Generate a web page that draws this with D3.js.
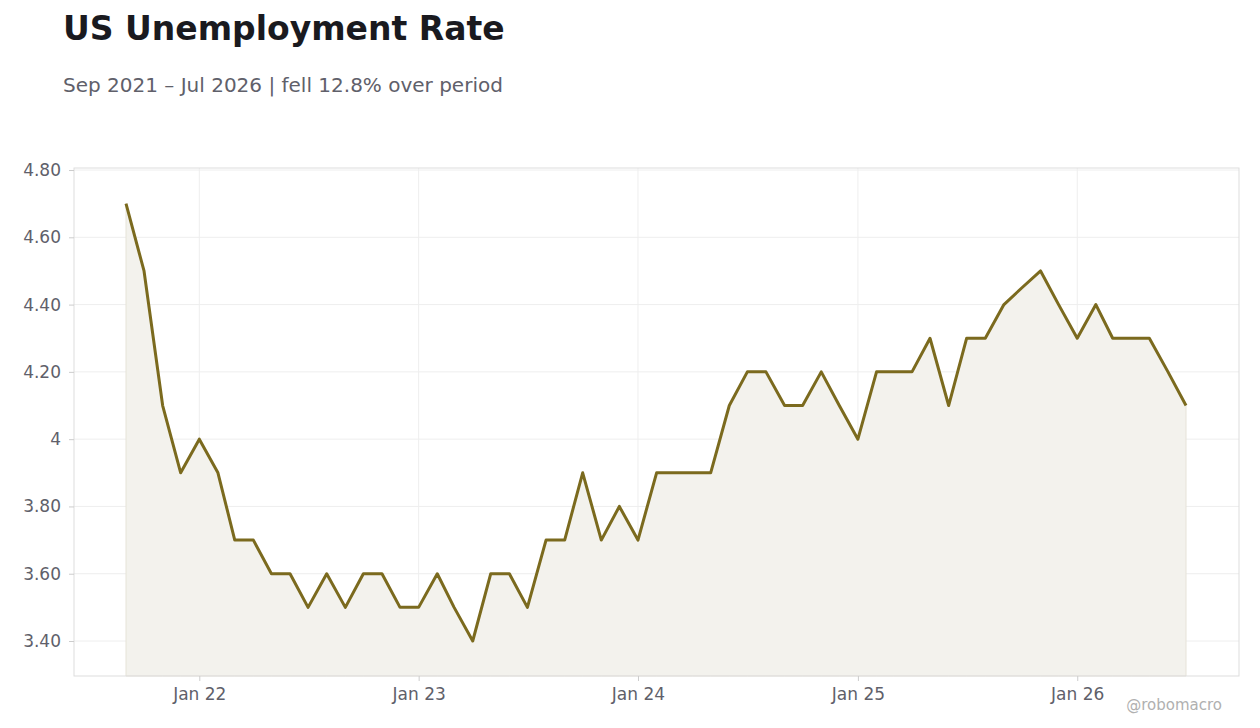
<!DOCTYPE html>
<html><head><meta charset="utf-8">
<script src="https://cdn.jsdelivr.net/npm/d3@7"></script>
<style>body{margin:0;background:#fff;font-family:"DejaVu Sans",sans-serif}</style>
</head><body><svg id="c" width="1260" height="728"></svg>
<script>
const startMonth = "2021-09";
const values = [4.7,4.5,4.1,3.9,4.0,3.9,3.7,3.7,3.6,3.6,3.5,3.6,3.5,3.6,3.6,3.5,
3.5,3.6,3.5,3.4,3.6,3.6,3.5,3.7,3.7,3.9,3.7,3.8,
3.7,3.9,3.9,3.9,3.9,4.1,4.2,4.2,4.1,4.1,4.2,4.1,
4.0,4.2,4.2,4.2,4.3,4.1,4.3,4.3,4.4,4.45,4.5,4.4,
4.3,4.4,4.3,4.3,4.3,4.2,4.1];
const yTicks = [3.4,3.6,3.8,4.0,4.2,4.4,4.6,4.8];
const xTickLabels = ["Jan 22","Jan 23","Jan 24","Jan 25","Jan 26"];

const s = d3.timeParse("%Y-%m")(startMonth);
const data = values.map((v,i)=>({d:d3.timeMonth.offset(s,i),v}));
const svg = d3.select("#c");
const L=74,R=1239,T=168,B=676;
const x = d3.scaleTime().domain([new Date(2021,8,1),new Date(2026,6,1)]).range([126,1186]);
const y = d3.scaleLinear().domain([3.296,4.806]).range([B,T]);
const xt = xTickLabels.map((t,i)=>new Date(2022+i,0,1));

svg.append("text").attr("x",63).attr("y",40).attr("font-size",33).attr("font-weight","bold").attr("fill","#1a1a1f").text("US Unemployment Rate");
svg.append("text").attr("x",63).attr("y",92).attr("font-size",20).attr("fill","#60606a").text("Sep 2021 – Jul 2026 | fell 12.8% over period");

const g = svg.append("g");
g.selectAll(".hg").data(yTicks).join("line").attr("x1",L).attr("x2",R).attr("y1",d=>y(d)).attr("y2",d=>y(d)).attr("stroke","#eeeeee");
g.selectAll(".vg").data(xt).join("line").attr("x1",d=>x(d)).attr("x2",d=>x(d)).attr("y1",T).attr("y2",B).attr("stroke","#eeeeee");
g.append("path").datum(data).attr("fill","#f3f2ed").attr("stroke","#e6e3d8")
 .attr("d",d3.area().x(d=>x(d.d)).y0(B).y1(d=>y(d.v)));
g.append("path").datum(data).attr("fill","none").attr("stroke","#7b6a1e").attr("stroke-width",3).attr("stroke-linejoin","round")
 .attr("d",d3.line().x(d=>x(d.d)).y(d=>y(d.v)));
g.append("rect").attr("x",L).attr("y",T).attr("width",R-L).attr("height",B-T).attr("fill","none").attr("stroke","#dddddd");

const ya = svg.append("g").attr("transform",`translate(${L},0)`)
 .call(d3.axisLeft(y).tickValues(yTicks).tickSize(5).tickFormat(d=>d===4?"4":d.toFixed(2)));
const xa = svg.append("g").attr("transform",`translate(0,${B})`)
 .call(d3.axisBottom(x).tickValues(xt).tickSize(5).tickFormat((d,i)=>xTickLabels[i]));
[ya,xa].forEach(a=>{a.select(".domain").remove();a.selectAll("line").attr("stroke","#cccccc");
 a.selectAll("text").attr("font-size",17).attr("fill","#60606a").attr("font-family","DejaVu Sans");});
ya.selectAll("text").attr("dx",-5);
xa.selectAll("text").attr("dy","0.95em");
svg.append("text").attr("x",1222).attr("y",710).attr("text-anchor","end").attr("font-size",15).attr("fill","#b0b0b0").text("@robomacro");
</script></body></html>
